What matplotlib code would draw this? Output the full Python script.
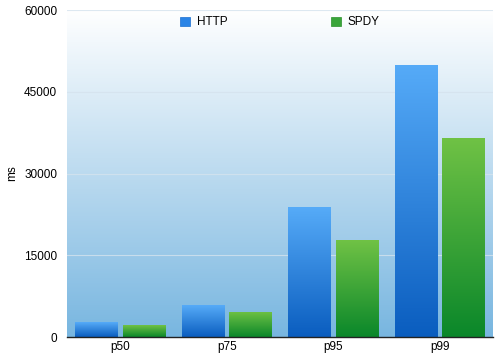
import numpy as np
import matplotlib
matplotlib.use("Agg")
import matplotlib.pyplot as plt
from matplotlib.colors import LinearSegmentedColormap
from matplotlib.patches import Patch

categories = ["p50", "p75", "p95", "p99"]
http_values = [2750, 5850, 23800, 50000]
spdy_values = [2200, 4600, 17800, 36600]
series_names = ["HTTP", "SPDY"]
yticks = [0, 15000, 30000, 45000, 60000]

plt.rcParams['font.family'] = ['Liberation Sans', 'DejaVu Sans']

fig = plt.figure(figsize=(5.0, 3.55), dpi=100)
ax = fig.add_axes([0.134, 0.0507, 0.852, 0.921])

x = np.arange(len(categories))

# gradient column: row 0 = bottom (origin="lower")
grad = np.linspace(0, 1, 256).reshape(-1, 1)

# background gradient: bottom blue -> top white
bg_cmap = LinearSegmentedColormap.from_list("bg", ["#78b6e0", "#ffffff"])
ax.imshow(grad, cmap=bg_cmap, aspect="auto", extent=[0, 1, 0, 1],
          transform=ax.transAxes, zorder=0, origin="lower")

for t in yticks[1:]:
    ax.axhline(t, color="#d5e3ee", lw=0.8, zorder=1, alpha=0.8)

# bar gradients: bottom dark -> top light
http_cmap = LinearSegmentedColormap.from_list("h", ["#0a5dbf", "#56abf8"])
spdy_cmap = LinearSegmentedColormap.from_list("s", ["#0a872a", "#70c245"])

w = 0.40
off = 0.222
bars_h = ax.bar(x - off, http_values, w, color="none", zorder=2)
bars_s = ax.bar(x + off, spdy_values, w, color="none", zorder=2)
for bars, cmap in ((bars_h, http_cmap), (bars_s, spdy_cmap)):
    for b in bars:
        x0, y0 = b.get_x(), b.get_y()
        im = ax.imshow(grad, cmap=cmap, aspect="auto",
                       extent=[x0, x0 + b.get_width(), y0, y0 + b.get_height()],
                       zorder=2, origin="lower")
        im.set_clip_path(b)

ax.set_xlim(-0.5, len(categories) - 0.5)
ax.set_ylim(0, 60000)

ax.set_xticks(x)
ax.set_xticklabels(categories, fontsize=8.5)
ax.set_yticks(yticks)
ax.set_yticklabels([str(t) for t in yticks], fontsize=8.5)
ax.tick_params(length=0)
ax.tick_params(axis="x", pad=3)
ax.tick_params(axis="y", pad=7)
for s in ["top", "right", "left"]:
    ax.spines[s].set_visible(False)
ax.spines["bottom"].set_color("#222222")
ax.spines["bottom"].set_linewidth(1.0)
ax.spines["bottom"].set_zorder(5)
ax.set_ylabel("ms", fontsize=8.5, labelpad=4)

handles = [Patch(facecolor="#2a84e6", edgecolor="#1a6fd0", lw=0.5),
           Patch(facecolor="#3aa53a", edgecolor="#2a902a", lw=0.5)]
leg = ax.legend(handles, series_names, loc="upper center", ncol=2, frameon=False,
                fontsize=8.5, handlelength=0.8, handleheight=0.8,
                columnspacing=8.8, handletextpad=0.6, bbox_to_anchor=(0.5, 1.013))

fig.savefig("out.png", dpi=100)
